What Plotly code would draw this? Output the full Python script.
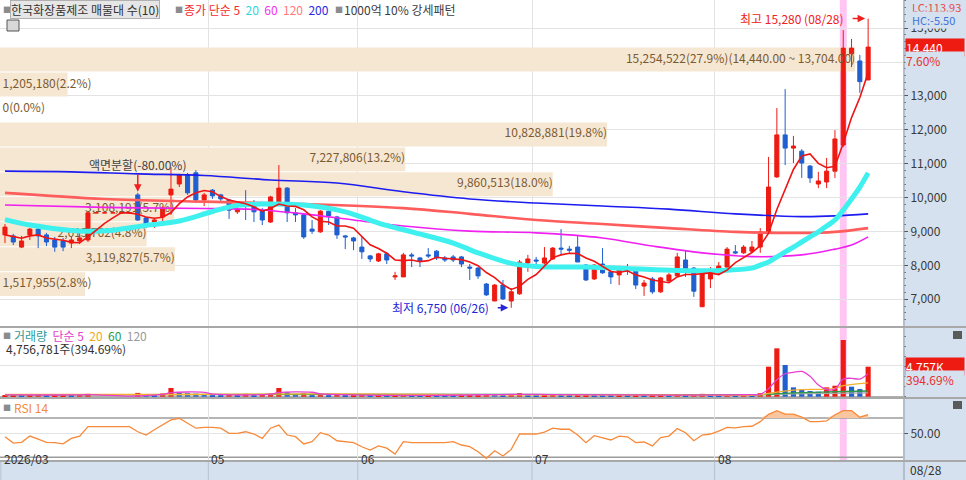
import plotly.graph_objects as go

# ---- daily candles: index 0 = late March 2026 ... 104 = 08/28 ----
opens = [8900, 8870, 8540, 8900, 9070, 8900, 8750, 8720, 8660, 8720,
         8750, 9550, 9550, 9550, 9550, 9550, 10080, 9400, 9280, 9430,
         10080, 10400, 10670, 10730, 9930, 10220, 10080, 9930, 9580, 9840,
         9750, 9630, 9280, 9810, 10280, 9550, 9490, 9070, 8990, 9600,
         9430, 8870, 8810, 8540, 8280, 8130, 8340, 7660, 7660, 8310,
         8220, 8310, 8420, 8220, 8250, 8250, 7950, 7920, 7450, 6950,
         7420, 6950, 7160, 8070, 8160, 8070, 8190, 8510, 8480, 8540,
         8010, 7600, 8040, 7810, 7720, 7920, 7830, 7390, 7600, 7220,
         7540, 7690, 8160, 7920, 6780, 7600, 7780, 7950, 8400, 8370,
         8420, 8540, 8960, 10610, 11850, 11460, 11370, 10930, 10400, 10460,
         10780, 11550, 14240, 14030, 13470]
highs = [9220, 8930, 8870, 9100, 9130, 8960, 8840, 8810, 8840, 8990,
         9600, 9550, 9550, 9550, 9550, 9550, 10140, 9430, 9400, 9750,
         10900, 10700, 10730, 10810, 10140, 10250, 10110, 9960, 9750, 10220,
         9930, 9690, 10050, 10960, 10310, 9690, 9520, 9340, 9630, 9630,
         9460, 8900, 8840, 8840, 8310, 8370, 8400, 7810, 8370, 8370,
         8250, 8510, 8450, 8280, 8310, 8280, 8040, 7950, 7480, 7450,
         7570, 7330, 8160, 8310, 8250, 8540, 8540, 9070, 8570, 8870,
         8040, 8040, 8510, 7890, 7980, 8040, 7920, 7570, 7660, 7660,
         7780, 8370, 8450, 7950, 7780, 7950, 8100, 8540, 8600, 8600,
         8720, 9100, 11200, 12640, 13200, 11820, 11430, 10960, 10760, 11170,
         11990, 14940, 14680, 14210, 15280]
lows = [8660, 8600, 8510, 8750, 8510, 8570, 8400, 8420, 8510, 8630,
        8690, 9550, 9550, 9550, 9550, 9550, 9310, 9100, 9100, 9220,
        9490, 10310, 10080, 9840, 9750, 9960, 9870, 9370, 9520, 9340,
        9280, 9190, 9250, 9750, 9280, 9280, 8780, 8930, 8960, 9190,
        8780, 8480, 8450, 8190, 8100, 8100, 8040, 7570, 7660, 7950,
        7950, 8220, 8160, 8100, 8100, 7950, 7570, 7600, 7100, 6950,
        6980, 6750, 7130, 7810, 7950, 7980, 8160, 8310, 8370, 8100,
        7540, 7570, 7750, 7450, 7420, 7720, 7300, 7100, 7160, 7190,
        7480, 7660, 7660, 7070, 6780, 7330, 7750, 7920, 8340, 8340,
        8370, 8370, 8930, 10580, 10960, 11020, 10580, 10430, 10280, 10280,
        10580, 11490, 13850, 13090, 13470]
closes = [9130, 8690, 8720, 9070, 8870, 8690, 8540, 8540, 8750, 8810,
          9550, 9550, 9550, 9550, 9550, 9550, 9340, 9160, 9340, 9690,
          10250, 10670, 10140, 9930, 10080, 10050, 9960, 9630, 9660, 9810,
          9580, 9340, 10020, 10280, 9550, 9490, 8840, 9010, 9600, 9460,
          8900, 8840, 8720, 8400, 8190, 8340, 8160, 7690, 8310, 8280,
          8130, 8280, 8220, 8160, 8160, 8040, 7920, 7690, 7130, 7420,
          7010, 7220, 8100, 8190, 8130, 8220, 8510, 8480, 8450, 8100,
          7570, 8010, 7780, 7660, 7920, 7830, 7420, 7480, 7220, 7630,
          7720, 8250, 7830, 7240, 7750, 7830, 7980, 8480, 8370, 8540,
          8540, 8990, 10310, 11850, 11460, 11520, 11020, 10580, 10490, 10780,
          11730, 14410, 14410, 13420, 14440]
volumes = [250000, 300000, 220000, 280000, 350000, 200000, 260000, 300000, 240000, 330000,
           450000, 0, 0, 0, 0, 0, 600000, 350000, 300000, 500000,
           1380000, 620000, 550000, 480000, 350000, 300000, 280000, 400000, 250000, 450000,
           300000, 350000, 500000, 1380000, 700000, 400000, 550000, 300000, 450000, 300000,
           400000, 250000, 300000, 350000, 200000, 250000, 220000, 300000, 350000, 200000,
           180000, 220000, 200000, 170000, 150000, 200000, 250000, 300000, 400000, 350000,
           300000, 400000, 550000, 300000, 200000, 280000, 350000, 300000, 200000, 250000,
           300000, 250000, 200000, 180000, 220000, 150000, 200000, 170000, 220000, 250000,
           200000, 350000, 300000, 350000, 450000, 300000, 250000, 350000, 200000, 430000,
           300000, 550000, 4760000, 7670000, 5030000, 1480000, 1060000, 900000, 790000, 1480000,
           1740000, 9000000, 1590000, 1205200, 4756781]

# price moving averages (5 per day, the longer ones read at points along the line)
ma5 = [8900, 8850, 8800, 8870, 8900, 8810, 8780, 8740, 8680, 8670,
       8840, 9040, 9240, 9400, 9550, 9550, 9510, 9430, 9390, 9420,
       9560, 9820, 10020, 10140, 10210, 10170, 10030, 9930, 9880, 9820,
       9730, 9600, 9680, 9810, 9750, 9740, 9640, 9430, 9300, 9280,
       9160, 9160, 9100, 8860, 8610, 8500, 8360, 8160, 8140, 8160,
       8110, 8140, 8240, 8210, 8190, 8170, 8100, 7990, 7790, 7640,
       7430, 7290, 7380, 7590, 7730, 7970, 8230, 8310, 8360, 8350,
       8220, 8120, 7980, 7820, 7790, 7840, 7720, 7660, 7570, 7520,
       7490, 7660, 7730, 7730, 7760, 7780, 7730, 7860, 8080, 8240,
       8380, 8580, 8950, 9650, 10230, 10830, 11230, 11290, 11010, 10880,
       10920, 11600, 12360, 12950, 13680]
ma20_x = [0, 3, 8, 10, 13, 17, 21, 25, 28, 31, 36, 41, 45, 49, 54, 57, 61, 64, 70, 75,
          81, 87, 90, 91, 92, 93, 94, 95, 96, 97, 98, 99, 100, 101, 102, 103, 104]
ma20 = [9350, 9190, 9030, 9010, 9040, 9180, 9310, 9590, 9770, 9810, 9780, 9580, 9250, 8990,
        8660, 8370, 8060, 7970, 7950, 7910, 7850, 7860, 7920, 8010, 8100, 8250, 8400, 8540,
        8690, 8840, 8990, 9160, 9340, 9630, 9960, 10310, 10730]
ma60_x = [0, 12, 24, 30, 36, 42, 48, 56, 64, 72, 78, 84, 90, 96, 100, 102, 104]
ma60 = [9780, 9710, 9680, 9650, 9520, 9340, 9160, 9010, 8960, 8810, 8570, 8370, 8260, 8310,
        8480, 8600, 8840]
ma120_x = [0, 12, 24, 36, 48, 56, 64, 72, 80, 88, 96, 100, 104]
ma120 = [10140, 9960, 9880, 9810, 9690, 9520, 9340, 9220, 9100, 8990, 8960, 8990, 9100]
ma200_x = [0, 8, 16, 24, 32, 40, 48, 56, 64, 72, 80, 88, 96, 100, 104]
ma200 = [10780, 10760, 10700, 10650, 10520, 10430, 10170, 9960, 9840, 9750, 9660, 9520, 9440,
         9460, 9520]

# volume moving averages
vma5_x = [0, 9, 10, 11, 15, 16, 19, 20, 24, 25, 32, 33, 37, 38, 50, 62, 66, 80, 88, 90,
          91, 92, 93, 94, 95, 96, 97, 98, 99, 100, 101, 102, 103, 104]
vma5 = [280000, 280000, 320000, 300000, 90000, 120000, 350000, 630000, 680000, 400000,
        400000, 670000, 700000, 450000, 220000, 380000, 330000, 250000, 300000, 320000,
        360000, 1250000, 2700000, 3640000, 3870000, 4000000, 3230000, 1850000, 1140000, 1190000,
        2780000, 2920000, 2800000, 3660000]
vma20_x = [0, 20, 40, 60, 80, 91, 92, 95, 100, 101, 104]
vma20 = [350000, 350000, 450000, 300000, 270000, 300000, 520000, 1050000, 1320000, 1750000, 2200000]
vma60_x = [0, 40, 80, 91, 92, 95, 100, 104]
vma60 = [300000, 380000, 320000, 300000, 380000, 620000, 780000, 900000]
vma120_x = [0, 50, 91, 95, 104]
vma120 = [320000, 350000, 330000, 450000, 620000]

rsi14 = [46, 38, 39, 47, 43, 39, 38.6, 37, 44, 47,
         59, 59, 59, 59, 59, 59, 52.5, 48.3, 55, 61,
         67.5, 69.6, 63, 57, 58, 58, 57, 50.5, 50.5, 52.5,
         49.6, 44, 57, 61, 48.3, 46.2, 37, 39.8, 51.3, 48.3,
         41, 39.8, 38.6, 33.4, 29.2, 34.4, 31.5, 24, 39.8, 38.6,
         38.6, 38.6, 38.6, 38.6, 39.8, 35.6, 33.4, 27, 18.6, 28.3,
         21.6, 30, 49.6, 49.6, 49.6, 52, 57, 55.7, 55.7, 48.3,
         38.6, 47.5, 45, 42, 47, 46, 38.6, 39.4, 34.4, 45,
         47, 56.5, 51.3, 41, 48.3, 49.6, 53.4, 58, 57.4, 59,
         59.5, 65.3, 74.7, 79.3, 75, 75, 71, 65.3, 65.3, 66.2,
         74.2, 79.3, 79.3, 71, 74.2]
rsi_levels = [70, 20]

# volume-by-price bands (매물대), bottom band first
profile_vol = [1517955, 3119827, 2615762, 3108191, 9860513, 7227806, 10828881, 0, 1205180, 15254522]
profile_top = 14440.0
profile_top_low = 13704.0

month_grid = [-0.5, 24.5, 42.5, 63.5, 85.5]
month_labels = ["2026/03", "05", "06", "07", "08"]
last_date = "08/28"
HIGH_DAY, LOW_DAY, SPLIT_DAY, MARK_DAY = 104, 61, 16, 101

# ---- layout constants ----
FONT = "Noto Sans CJK KR"
FS = 12
W, H = 966, 480
PLOT_R = 903
X_MIN, X_MAX = -0.6, 108.2
PX_PER_DAY = PLOT_R / (X_MAX - X_MIN)
RED, BLUE = "#ee1b12", "#1f5fd0"
BEIGE, BROWN = "#f6e7d3", "#7a5a30"
PANEL, GRID, PINK = "#d5e1ee", "#e3e3e3", "#ffc6f4"


def fx(px):
    return px / W


def fy(px):
    return 1 - px / H


days = list(range(len(closes)))
fig = go.Figure()

# volume-by-price bands
n = len(profile_vol)
step = profile_top - profile_top_low
band_mid = [profile_top - step * (n - k - 0.5) for k in range(n)]
span = 0.947 * (X_MAX - X_MIN)
band_len = [v / max(profile_vol) * span for v in profile_vol]
total = sum(profile_vol)
labels, tx, tpos = [], [], []
for k, v in enumerate(profile_vol):
    s = f"{v:,}({v / total * 100:.1f}%)"
    if k == n - 1:
        s += f"({profile_top:,.2f} ~ {profile_top_low:,.2f})"
    labels.append(s)
    if band_len[k] * PX_PER_DAY > len(s) * 6.3 + 4:
        tx.append(X_MIN + band_len[k])
        tpos.append("middle left")
    else:
        tx.append(X_MIN + 0.3)
        tpos.append("middle right")

fig.add_trace(go.Bar(x=band_len, y=band_mid, base=X_MIN, orientation="h", width=step * 0.96,
                     marker=dict(color=BEIGE, line_width=0), xaxis="x", yaxis="y", hoverinfo="skip"))
fig.add_trace(go.Scatter(x=tx, y=band_mid, mode="text", text=labels, textposition=tpos,
                         textfont=dict(family=FONT, size=FS, color=BROWN), xaxis="x", yaxis="y",
                         cliponaxis=False, hoverinfo="skip"))

# moving averages
for xs, ys, col, w in [(ma200_x, ma200, "#1c1cf0", 1.6), (ma120_x, ma120, "#ff5c5c", 2.6),
                       (ma60_x, ma60, "#f020f0", 1.6), (ma20_x, ma20, "#3ef0ee", 5)]:
    fig.add_trace(go.Scatter(x=xs, y=ys, mode="lines", line=dict(color=col, width=w, shape="spline"),
                             xaxis="x", yaxis="y", hoverinfo="skip"))
fig.add_trace(go.Scatter(x=days, y=ma5, mode="lines", line=dict(color="#f01414", width=1.6),
                         xaxis="x", yaxis="y", hoverinfo="skip"))

fig.add_trace(go.Candlestick(x=days, open=opens, high=highs, low=lows, close=closes,
                             increasing=dict(line=dict(color=RED, width=1), fillcolor=RED),
                             decreasing=dict(line=dict(color=BLUE, width=1), fillcolor=BLUE),
                             whiskerwidth=0, xaxis="x", yaxis="y"))

# volume
vol_colors = [RED if i == 0 or volumes[i] > volumes[i - 1] else BLUE for i in days]
fig.add_trace(go.Bar(x=days, y=volumes, width=0.62, marker=dict(color=vol_colors, line_width=0),
                     xaxis="x2", yaxis="y2", hoverinfo="skip"))
for xs, ys, col in [(vma120_x, vma120, "#a8a8a8"), (vma60_x, vma60, "#2c9a45"),
                    (vma20_x, vma20, "#f5b030"), (vma5_x, vma5, "#e63fd0")]:
    fig.add_trace(go.Scatter(x=xs, y=ys, mode="lines", line=dict(color=col, width=1.3, shape="spline"),
                             xaxis="x2", yaxis="y2", hoverinfo="skip"))

# RSI with the part above 70 shaded
fig.add_trace(go.Scatter(x=days, y=[rsi_levels[0]] * len(days), mode="lines", line=dict(width=0),
                         xaxis="x3", yaxis="y3", hoverinfo="skip"))
fig.add_trace(go.Scatter(x=days, y=[max(v, rsi_levels[0]) for v in rsi14], mode="lines",
                         line=dict(width=0), fill="tonexty", fillcolor="#f9c6a0",
                         xaxis="x3", yaxis="y3", hoverinfo="skip"))
fig.add_trace(go.Scatter(x=days, y=rsi14, mode="lines", line=dict(color="#f78a3a", width=1.3),
                         xaxis="x3", yaxis="y3", hoverinfo="skip"))

xbase = dict(domain=[0, fx(PLOT_R)], range=[X_MIN, X_MAX], tickvals=month_grid, showticklabels=False,
             showgrid=True, gridcolor=GRID, zeroline=False, ticks="", fixedrange=True)
fig.update_layout(
    width=W, height=H, margin=dict(l=0, r=0, t=0, b=0),
    paper_bgcolor="white", plot_bgcolor="white", showlegend=False,
    font=dict(family=FONT, size=FS, color="#333333"),
    xaxis=dict(xbase, anchor="y", rangeslider=dict(visible=False)),
    xaxis2=dict(xbase, anchor="y2", matches="x"),
    xaxis3=dict(xbase, anchor="y3", matches="x"),
    yaxis=dict(domain=[fy(326), 1], range=[6212, 15829], side="right", anchor="x",
               tickvals=list(range(7000, 15001, 1000)), tickformat=",d", ticks="outside", ticklen=4,
               tickcolor="#555", gridcolor=GRID, zeroline=False,
               tickfont=dict(size=FS, color="#3a3a3a"),
               minor=dict(ticks="outside", ticklen=2, dtick=200, tickcolor="#777", showgrid=False)),
    yaxis2=dict(domain=[fy(397), fy(328)], range=[-50000, 10.9e6], side="right", anchor="x2",
                tickvals=[5e6], showticklabels=False, gridcolor=GRID, zeroline=True,
                zerolinecolor="#b0b0b0", ticks="",
                minor=dict(ticks="outside", ticklen=2, dtick=1.6e6, tickcolor="#777")),
    yaxis3=dict(domain=[fy(460), fy(399)], range=[16.5, 94.2], side="right", anchor="x3",
                tickvals=[50], ticktext=["50.00"], ticks="outside", ticklen=4, tickcolor="#555",
                gridcolor=GRID, zeroline=False, tickfont=dict(size=FS, color="#3a3a3a")),
)

# panels, separators, highlight
fig.add_shape(type="rect", xref="paper", yref="paper", x0=fx(PLOT_R), x1=1, y0=0, y1=1,
              fillcolor=PANEL, line_width=0, layer="below")
fig.add_shape(type="rect", xref="paper", yref="paper", x0=0, x1=1, y0=0, y1=fy(461),
              fillcolor=PANEL, line_width=0, layer="below")
fig.add_shape(type="line", xref="paper", yref="paper", x0=fx(904), x1=fx(904), y0=0, y1=1,
              line=dict(color="#8f9cab", width=1))
for m in month_grid:
    fig.add_shape(type="line", xref="x", yref="paper", x0=m, x1=m, y0=0, y1=fy(461),
                  line=dict(color="#b6c2ce", width=1))
for ypx in [327, 398, 461]:
    fig.add_shape(type="line", xref="paper", yref="paper", x0=0, x1=1, y0=fy(ypx), y1=fy(ypx),
                  line=dict(color="#a8a8a8", width=2))
for xr, yr in [("x", "y"), ("x2", "y2"), ("x3", "y3")]:
    fig.add_shape(type="rect", xref=xr, yref=yr + " domain", x0=MARK_DAY - 0.42, x1=MARK_DAY + 0.42,
                  y0=0, y1=1, fillcolor=PINK, line_width=0, layer="below")
for lv in rsi_levels:
    fig.add_shape(type="line", xref="x3 domain", yref="y3", x0=0, x1=1, y0=lv, y1=lv,
                  line=dict(color="#9c9c9c", width=1.5), layer="below")
fig.add_shape(type="rect", xref="paper", yref="paper", x0=fx(7), x1=fx(19), y0=fy(31), y1=fy(20),
              fillcolor="#d8d8d8", line=dict(color="#555", width=1))
for ypx in [331, 401]:
    fig.add_shape(type="rect", xref="paper", yref="paper", x0=fx(953), x1=fx(962), y0=fy(ypx + 8),
                  y1=fy(ypx), fillcolor="#5a5a5a", line_width=0)


def note(text, x, y, color="#333333", size=FS, xanchor="left", **kw):
    fig.add_annotation(text=text, x=x, y=y, xref="paper", yref="paper", xanchor=xanchor,
                       yanchor="middle", showarrow=False, font=dict(family=FONT, size=size, color=color), **kw)


# legends
note("■", fx(1), fy(9), "#8c8c8c", 8)
note("한국화장품제조 매물대 수(10)", fx(10), fy(9), "#333333", FS, bgcolor="#e6e6e6",
     bordercolor="#b0b0b0", borderwidth=1, borderpad=0)
note("■", fx(173), fy(9), "#8c8c8c", 8)
note('<span style="color:#f52a2a">종가 단순 5</span>  <span style="color:#2fd6e0">20</span>  '
     '<span style="color:#f032f0">60</span>  <span style="color:#ff7a7a">120</span>  '
     '<span style="color:#2828e6">200</span>', fx(182), fy(9))
note("■", fx(333), fy(9), "#8c8c8c", 8)
note("1000억 10% 강세패턴", fx(342), fy(9), "#3c3c3c")
note("LC:113.93", fx(911), fy(7), "#e64a4a", 11, borderpad=0)
note("HC:-5.50", fx(911), fy(20), "#3f72d8", 11, bgcolor=PANEL, borderpad=0)

note("■", fx(1), fy(335), "#8c8c8c", 8)
note('<span style="color:#2e9a9a">거래량</span>  <span style="color:#e040c8">단순 5</span>  '
     '<span style="color:#f0a818">20</span>  <span style="color:#2a9a48">60</span>  '
     '<span style="color:#9a9a9a">120</span>', fx(12), fy(335))
vol_ratio = volumes[-1] / volumes[-2] * 100
note(f"{volumes[-1]:,}주({vol_ratio:.2f}%)", fx(4), fy(348), "#333333")
note("■", fx(1), fy(407), "#8c8c8c", 8)
note("RSI 14", fx(12), fy(407), "#f58a3c")

# x labels
for m, lab in zip(month_grid, month_labels):
    fig.add_annotation(x=m, xref="x", y=fy(469), yref="paper", text=lab, xanchor="left", xshift=1,
                       showarrow=False, font=dict(family=FONT, size=FS, color="#333333"))
note(last_date, fx(908), fy(469))

# current price / volume tags
chg = (closes[-1] / closes[-2] - 1) * 100
fig.add_annotation(x=fx(905), xref="paper", y=closes[-1], yref="y", text=f"{closes[-1]:,}",
                   xanchor="left", showarrow=False, bgcolor=RED, width=58, align="left", borderpad=0,
                   font=dict(family=FONT, size=FS, color="white"))
fig.add_annotation(x=fx(905), xref="paper", y=closes[-1], yref="y", yshift=-13, text=f"{chg:.2f}%",
                   xanchor="left", showarrow=False, bgcolor=PANEL, width=58, align="left", borderpad=0,
                   font=dict(family=FONT, size=FS, color="#e83030"))
fig.add_annotation(x=fx(905), xref="paper", y=volumes[-1], yref="y2", text=f"{round(volumes[-1] / 1000):,}K",
                   xanchor="left", showarrow=False, bgcolor=RED, width=58, align="left", borderpad=0,
                   font=dict(family=FONT, size=FS, color="white"))
fig.add_annotation(x=fx(905), xref="paper", y=volumes[-1], yref="y2", yshift=-13, text=f"{vol_ratio:.2f}%",
                   xanchor="left", showarrow=False, bgcolor=PANEL, width=58, align="left", borderpad=0,
                   font=dict(family=FONT, size=FS, color="#e83030"))

# high / low / split markers
fig.add_annotation(x=HIGH_DAY, y=highs[HIGH_DAY], xref="x", yref="y", text="", showarrow=True, ax=-17, ay=0,
                   arrowhead=2, arrowsize=1, arrowwidth=1.5, arrowcolor="#f02020", standoff=3)
fig.add_annotation(x=HIGH_DAY, y=highs[HIGH_DAY], xref="x", yref="y", xanchor="right", xshift=-22,
                   text=f"최고 {highs[HIGH_DAY]:,} (08/28)", showarrow=False,
                   font=dict(family=FONT, size=FS, color="#f02020"))
fig.add_annotation(x=LOW_DAY, y=lows[LOW_DAY], xref="x", yref="y", text="", showarrow=True, ax=-15, ay=0,
                   arrowhead=2, arrowsize=1, arrowwidth=1.5, arrowcolor="#2424d8", standoff=3)
fig.add_annotation(x=LOW_DAY, y=lows[LOW_DAY], xref="x", yref="y", xanchor="right", xshift=-20,
                   text=f"최저 {lows[LOW_DAY]:,} (06/26)", showarrow=False,
                   font=dict(family=FONT, size=FS, color="#2424d8"))
fig.add_annotation(x=SPLIT_DAY, y=highs[SPLIT_DAY], xref="x", yref="y", text="", showarrow=True, ax=0, ay=-20,
                   arrowhead=2, arrowsize=1, arrowwidth=1.5, arrowcolor="#f02020", standoff=1)
fig.add_annotation(x=SPLIT_DAY, y=highs[SPLIT_DAY], xref="x", yref="y", yshift=28, text="액면분할(-80.00%)",
                   showarrow=False, font=dict(family=FONT, size=FS, color="#444444"))

fig.write_html("out.html", config={"displayModeBar": False},
               post_script="document.body.style.margin='0px';")
